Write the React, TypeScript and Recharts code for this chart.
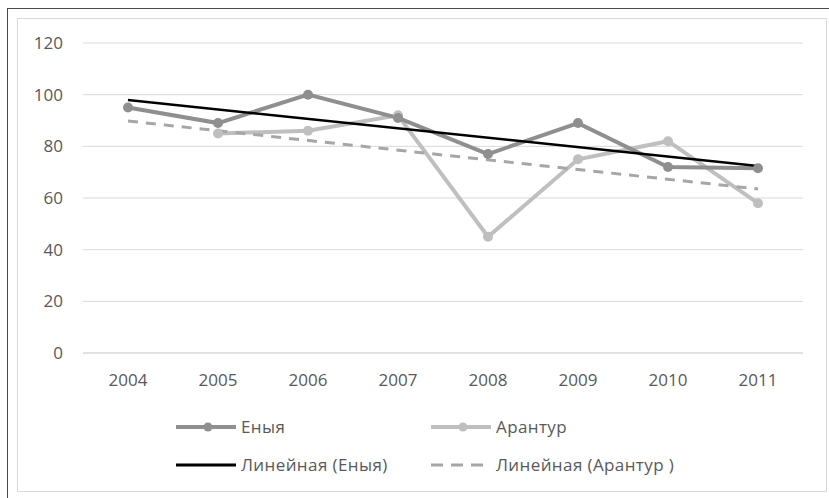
import { LineChart, Line, XAxis, YAxis, CartesianGrid } from "recharts";

const years = ["2004", "2005", "2006", "2007", "2008", "2009", "2010", "2011"];
const enyaValues = [95, 89, 100, 91, 77, 89, 72, 71.5];
const arantourValues: (number | null)[] = [null, 85, 86, 92, 45, 75, 82, 58];
// trend lines at their two ends
const enyaTrend: (number | null)[] = [97.9, null, null, null, null, null, null, 72.4];
const arantourTrend: (number | null)[] = [89.8, null, null, null, null, null, null, 63.5];
const yTicks = [0, 20, 40, 60, 80, 100, 120];

const chartData = years.map((y, i) => ({
  year: y,
  enya: enyaValues[i],
  arantour: arantourValues[i],
  enyaTrend: enyaTrend[i],
  arantourTrend: arantourTrend[i],
}));

const DARK = "#8f8f8f";
const LIGHT = "#bfbfbf";
const DASH = "#a6a6a6";
const TEXT = "#595959";
const FONT = "'Open Sans', sans-serif";

function LegendItem({ kind, label }: { kind: "dark" | "light" | "black" | "dash"; label: string }) {
  let icon;
  if (kind === "dark" || kind === "light") {
    const c = kind === "dark" ? DARK : LIGHT;
    icon = (
      <svg width={60} height={12}>
        <line x1={0} y1={6} x2={60} y2={6} stroke={c} strokeWidth={4} />
        <circle cx={32} cy={6} r={4.5} fill={c} />
      </svg>
    );
  } else if (kind === "black") {
    icon = (
      <svg width={60} height={12}>
        <line x1={0} y1={6} x2={60} y2={6} stroke="#000" strokeWidth={3} />
      </svg>
    );
  } else {
    icon = (
      <svg width={60} height={12}>
        <line x1={0} y1={6} x2={60} y2={6} stroke={DASH} strokeWidth={3} strokeDasharray="12 8" />
      </svg>
    );
  }
  return (
    <div style={{ display: "flex", alignItems: "center", gap: 5 }}>
      {icon}
      <span style={{ fontSize: 17, color: TEXT, fontFamily: FONT, letterSpacing: 0.4 }}>{label}</span>
    </div>
  );
}

export default function App() {
  return (
    <div
      style={{
        position: "absolute",
        left: 7,
        top: 8,
        width: 840,
        height: 500,
        border: "1px solid #4a4a4a",
        background: "#fff",
      }}
    >
      <div
        style={{
          position: "absolute",
          left: 9,
          top: 9,
          width: 808,
          height: 472,
          border: "1px solid #d9d9d9",
          background: "#fff",
        }}
      >
        <LineChart
          width={808}
          height={472}
          data={chartData}
          margin={{ top: 24, right: 23, left: 0, bottom: 108 }}
        >
          <CartesianGrid stroke="#d9d9d9" vertical={false} />
          <XAxis
            dataKey="year"
            padding={{ left: 45, right: 45 }}
            tickLine={false}
            axisLine={{ stroke: "#d9d9d9" }}
            tick={{ fontSize: 17, fill: TEXT, fontFamily: FONT }}
            tickMargin={15}
            height={30}
          />
          <YAxis
            domain={[0, 120]}
            ticks={yTicks}
            width={65}
            tickLine={false}
            axisLine={false}
            tick={{ fontSize: 17, fill: TEXT, fontFamily: FONT }}
            tickMargin={14}
          />
          <Line
            dataKey="arantour"
            stroke={LIGHT}
            strokeWidth={4}
            dot={{ r: 5, fill: LIGHT, stroke: LIGHT, strokeWidth: 0 }}
            isAnimationActive={false}
          />
          <Line
            dataKey="enya"
            stroke={DARK}
            strokeWidth={4}
            dot={{ r: 5, fill: DARK, stroke: DARK, strokeWidth: 0 }}
            isAnimationActive={false}
          />
          <Line
            dataKey="arantourTrend"
            stroke={DASH}
            strokeWidth={3}
            strokeDasharray="10 8"
            dot={false}
            connectNulls
            isAnimationActive={false}
          />
          <Line
            dataKey="enyaTrend"
            stroke="#000"
            strokeWidth={2.5}
            dot={false}
            connectNulls
            isAnimationActive={false}
          />
        </LineChart>
        <div style={{ position: "absolute", left: 158, top: 396 }}>
          <LegendItem kind="dark" label="Еныя" />
        </div>
        <div style={{ position: "absolute", left: 413, top: 396 }}>
          <LegendItem kind="light" label="Арантур" />
        </div>
        <div style={{ position: "absolute", left: 158, top: 434 }}>
          <LegendItem kind="black" label="Линейная (Еныя)" />
        </div>
        <div style={{ position: "absolute", left: 413, top: 434 }}>
          <LegendItem kind="dash" label="Линейная (Арантур )" />
        </div>
      </div>
    </div>
  );
}
